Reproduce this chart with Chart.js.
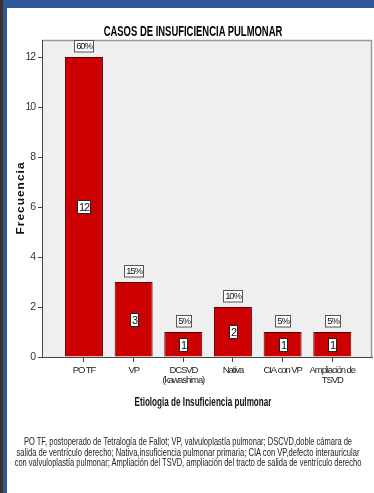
<!DOCTYPE html>
<html>
<head>
<meta charset="utf-8">
<script src="https://cdn.jsdelivr.net/npm/chart.js@4/dist/chart.umd.min.js"></script>
<style>
  body { margin: 0; background: #fff; width: 374px; height: 493px; overflow: hidden; position: relative; font-family: "Liberation Sans", Arial, sans-serif; }
  #c { position: absolute; left: 0; top: 0; }
  #topbar { position: absolute; left: 0; top: 0; width: 374px; height: 8px; background: #2e5796; }
  #brown { position: absolute; left: 0; top: 0; width: 3px; height: 493px; background: #3d3127; }
  #blue { position: absolute; left: 3px; top: 0; width: 4px; height: 493px; background: #2e5796; }
  .fit { position: absolute; white-space: nowrap; color: #111; line-height: 1; }
  #title { left: 193px; top: 31px; font-size: 14px; font-weight: bold; color: #000; }
  #ytitle { left: 20px; top: 198px; font-size: 11px; font-weight: bold; letter-spacing: 1px; }
  #xtitle { left: 203px; top: 401px; font-size: 13px; font-weight: bold; }
  .note { font-size: 11.5px; color: #222; left: 188px; }
</style>
</head>
<body>
<canvas id="c" width="374" height="493"></canvas>
<div id="topbar"></div>
<div id="brown"></div>
<div id="blue"></div>
<span id="title" class="fit" data-w="179">CASOS DE INSUFICIENCIA PULMONAR</span>
<span id="ytitle" class="fit" data-w="73" data-rot="1">Frecuencia</span>
<span id="xtitle" class="fit" data-w="137">Etiologia de Insuficiencia pulmonar</span>
<span class="fit note" style="top:442px" data-w="328">PO TF, postoperado de Tetralogía de Fallot; VP, valvuloplastía pulmonar; DSCVD,doble cámara de</span>
<span class="fit note" style="top:452.5px" data-w="343">salida de ventrículo derecho; Nativa,insuficiencia pulmonar primaria; CIA con VP,defecto interauricular</span>
<span class="fit note" style="top:463px" data-w="347">con valvuloplastía pulmonar; Ampliación del TSVD, ampliación del tracto de salida de ventrículo derecho</span>
<script>
// data
var categories = ['PO TF', 'VP', ['DCSVD', '(kawashima)'], 'Nativa', 'CIA con VP', ['Ampliación de', 'TSVD']];
var frecuencia = [12, 3, 1, 2, 1, 1];
var porcentaje = ['60%', '15%', '5%', '10%', '5%', '5%'];
var yTicks = [0, 2, 4, 6, 8, 10, 12];

var sans = '"Liberation Sans", Arial, sans-serif';

// squeeze the html labels to the narrow widths of the original
document.querySelectorAll('.fit').forEach(function (el) {
  var s = parseFloat(el.getAttribute('data-w')) / el.offsetWidth;
  var rot = el.getAttribute('data-rot') ? ' rotate(-90deg)' : '';
  el.style.transform = 'translate(-50%, -50%)' + rot + ' scaleX(' + s.toFixed(3) + ')';
});

var points = [];
for (var i = 0; i < frecuencia.length; i++) {
  points.push({x: i + 1, y: frecuencia[i]});
}

// gray plot background + frame on top/right, and narrow text
var plotFrame = {
  id: 'plotFrame',
  beforeDraw: function (chart) {
    var a = chart.chartArea, ctx = chart.ctx;
    ctx.letterSpacing = '-1.1px';
    ctx.save();
    ctx.fillStyle = '#efefef';
    ctx.fillRect(a.left, a.top, a.right - a.left, a.bottom - a.top);
    ctx.strokeStyle = '#9a9a9a';
    ctx.lineWidth = 1.5;
    ctx.beginPath();
    ctx.moveTo(a.left, a.top + 0.5);
    ctx.lineTo(a.right - 0.5, a.top + 0.5);
    ctx.lineTo(a.right - 0.5, a.bottom);
    ctx.stroke();
    ctx.restore();
  }
};

function boxText(ctx, txt, cx, cy, size, border) {
  ctx.font = size + 'px ' + sans;
  var w = Math.round(ctx.measureText(txt).width + 3);
  var h = size + 2;
  var x0 = Math.round(cx - w / 2) + 0.5, y0 = Math.round(cy - h / 2) + 0.5;
  ctx.fillStyle = '#fff';
  ctx.fillRect(x0, y0, w, h);
  ctx.strokeStyle = border;
  ctx.lineWidth = 1;
  ctx.strokeRect(x0, y0, w, h);
  ctx.fillStyle = '#111';
  ctx.textAlign = 'center';
  ctx.textBaseline = 'middle';
  ctx.fillText(txt, x0 + w / 2, y0 + h / 2 + 0.5);
}

var barLabels = {
  id: 'barLabels',
  afterDatasetsDraw: function (chart) {
    var ctx = chart.ctx;
    var meta = chart.getDatasetMeta(0);
    ctx.save();
    meta.data.forEach(function (bar, i) {
      boxText(ctx, String(frecuencia[i]), bar.x, (bar.y + bar.base) / 2, 11, '#222');
      boxText(ctx, porcentaje[i], bar.x, bar.y - 11, 9.5, '#555');
    });
    ctx.restore();
  }
};

new Chart(document.getElementById('c'), {
  type: 'bar',
  data: {
    datasets: [{
      data: points,
      backgroundColor: '#cc0000',
      borderColor: '#5a0000',
      borderWidth: 1,
      barPercentage: 0.765,
      categoryPercentage: 1
    }]
  },
  options: {
    responsive: false,
    animation: false,
    devicePixelRatio: 1,
    layout: { padding: { left: 0, top: 40, right: 2, bottom: 96 } },
    plugins: { legend: { display: false }, tooltip: { enabled: false } },
    scales: {
      x: {
        type: 'linear',
        offset: false,
        min: 0.155,
        max: 6.8,
        afterBuildTicks: function (axis) {
          axis.ticks = categories.map(function (c, i) { return {value: i + 1}; });
        },
        afterFit: function (axis) { axis.height = 40; },
        grid: { offset: false, drawOnChartArea: false, tickLength: 5, color: '#444', tickColor: '#444' },
        border: { color: '#444', width: 1 },
        ticks: {
          autoSkip: false,
          maxRotation: 0,
          padding: 3,
          color: '#222',
          font: { family: sans, size: 9.5, lineHeight: 1.05 },
          callback: function (v) { return categories[v - 1]; }
        }
      },
      y: {
        min: 0,
        max: 12.68,
        afterBuildTicks: function (axis) {
          axis.ticks = yTicks.map(function (v) { return {value: v}; });
        },
        afterFit: function (axis) { axis.width = 42; },
        grid: { drawOnChartArea: false, tickLength: 4, color: '#444', tickColor: '#444' },
        border: { color: '#444', width: 1 },
        ticks: {
          padding: 3,
          color: '#333',
          font: { family: sans, size: 10.5 }
        }
      }
    }
  },
  plugins: [plotFrame, barLabels]
});
</script>
</body>
</html>
